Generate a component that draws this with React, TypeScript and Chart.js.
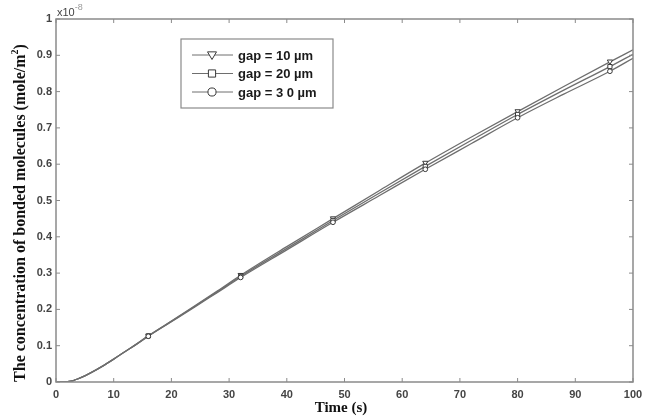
import React, { useEffect, useRef } from "react";
import { Chart, registerables } from "chart.js";

Chart.register(...registerables);

const times = [0, 1, 2, 3, 4, 5, 6, 8, 10, 12, 14, 16, 20, 24, 28, 32, 40, 48, 56, 64, 72, 80, 88, 96, 100];
const gap10 = [0, 0, 0.001, 0.004, 0.010, 0.017, 0.025, 0.043, 0.063, 0.084, 0.105, 0.127, 0.168, 0.209, 0.251, 0.294, 0.373, 0.450, 0.527, 0.603, 0.675, 0.745, 0.814, 0.882, 0.915];
const gap20 = [0, 0, 0.001, 0.004, 0.010, 0.017, 0.025, 0.043, 0.063, 0.084, 0.105, 0.127, 0.167, 0.208, 0.249, 0.291, 0.368, 0.445, 0.520, 0.594, 0.666, 0.737, 0.804, 0.869, 0.903];
const gap30 = [0, 0, 0.001, 0.004, 0.010, 0.017, 0.025, 0.043, 0.063, 0.084, 0.104, 0.126, 0.166, 0.206, 0.247, 0.288, 0.364, 0.440, 0.513, 0.586, 0.657, 0.728, 0.793, 0.856, 0.892];
const markerTimes = [16, 32, 48, 64, 80, 96];
const seriesLabels = ["gap = 10 µm", "gap = 20 µm", "gap = 3 0 µm"];
const xTicks = [0, 10, 20, 30, 40, 50, 60, 70, 80, 90, 100];
const yTicks = [0, 0.1, 0.2, 0.3, 0.4, 0.5, 0.6, 0.7, 0.8, 0.9, 1];
const yTitle = "The concentration of bonded molecules (mole/m";
const xTitle = "Time (s)";

const LINE = "#6e6e6e";
const MARK = "#3a3a3a";
const AXIS = "#8a8a8a";

function drawMarker(ctx: CanvasRenderingContext2D, kind: number, x: number, y: number, r: number) {
  ctx.save();
  ctx.fillStyle = "#ffffff";
  ctx.strokeStyle = MARK;
  ctx.lineWidth = 1;
  ctx.beginPath();
  if (kind === 0) {
    ctx.moveTo(x - r, y - r * 0.7);
    ctx.lineTo(x + r, y - r * 0.7);
    ctx.lineTo(x, y + r);
    ctx.closePath();
  } else if (kind === 1) {
    ctx.rect(x - r * 0.8, y - r * 0.8, r * 1.6, r * 1.6);
  } else {
    ctx.arc(x, y, r * 0.9, 0, Math.PI * 2);
  }
  ctx.fill();
  ctx.stroke();
  ctx.restore();
}

const framePlugin = {
  id: "frame",
  afterDraw(chart: any) {
    const ctx: CanvasRenderingContext2D = chart.ctx;
    const { left, right, top, bottom } = chart.chartArea;
    const xs = chart.scales.x;
    const ys = chart.scales.y;
    ctx.save();
    ctx.strokeStyle = AXIS;
    ctx.lineWidth = 1.5;
    ctx.strokeRect(left, top, right - left, bottom - top);
    ctx.lineWidth = 1;
    ctx.beginPath();
    xTicks.forEach((t) => {
      const px = xs.getPixelForValue(t);
      ctx.moveTo(px, bottom);
      ctx.lineTo(px, bottom - 4);
      ctx.moveTo(px, top);
      ctx.lineTo(px, top + 4);
    });
    yTicks.forEach((t) => {
      const py = ys.getPixelForValue(t);
      ctx.moveTo(left, py);
      ctx.lineTo(left + 4, py);
      ctx.moveTo(right, py);
      ctx.lineTo(right - 4, py);
    });
    ctx.stroke();

    // x10^-8
    ctx.fillStyle = "#444";
    ctx.font = '11px "Liberation Sans", Arial, sans-serif';
    ctx.textAlign = "left";
    ctx.textBaseline = "alphabetic";
    ctx.fillText("x10", left + 1, top - 3);
    const w = ctx.measureText("x10").width;
    ctx.fillStyle = "#999";
    ctx.font = '9px "Liberation Sans", Arial, sans-serif';
    ctx.fillText("-8", left + 1 + w, top - 9);

    // y title
    const big = 'bold 16px "Liberation Serif", "Times New Roman", serif';
    const small = 'bold 10px "Liberation Serif", "Times New Roman", serif';
    ctx.save();
    ctx.translate(21, 213);
    ctx.rotate(-Math.PI / 2);
    ctx.fillStyle = "#111";
    ctx.font = big;
    const tw = ctx.measureText(yTitle).width;
    const cw = ctx.measureText(")").width;
    ctx.font = small;
    const sw = ctx.measureText("2").width;
    const total = tw + sw + cw;
    ctx.textAlign = "left";
    ctx.textBaseline = "middle";
    let sx = -total / 2;
    ctx.font = big;
    ctx.fillText(yTitle, sx, 0);
    sx += tw;
    ctx.font = small;
    ctx.fillText("2", sx, -6);
    sx += sw;
    ctx.font = big;
    ctx.fillText(")", sx, 0);
    ctx.restore();

    // x title
    ctx.fillStyle = "#111";
    ctx.font = 'bold 15px "Liberation Serif", "Times New Roman", serif';
    ctx.textAlign = "center";
    ctx.textBaseline = "middle";
    ctx.fillText(xTitle, 341, 408);

    // legend
    const bx = 181, by = 39, bw = 152, bh = 69;
    ctx.fillStyle = "#fff";
    ctx.fillRect(bx, by, bw, bh);
    ctx.strokeStyle = AXIS;
    ctx.lineWidth = 1.2;
    ctx.strokeRect(bx, by, bw, bh);
    const rows = [55, 73.5, 92];
    seriesLabels.forEach((lab, i) => {
      const y = rows[i];
      ctx.strokeStyle = LINE;
      ctx.lineWidth = 1;
      ctx.beginPath();
      ctx.moveTo(192, y);
      ctx.lineTo(233, y);
      ctx.stroke();
      drawMarker(ctx, i, 212, y, 4.5);
      ctx.fillStyle = "#1a1a1a";
      ctx.font = 'bold 13px "Liberation Sans", Arial, sans-serif';
      ctx.textAlign = "left";
      ctx.textBaseline = "middle";
      ctx.fillText(lab, 238, y + 1);
    });
    ctx.restore();
  },
};

const markerPlugin = {
  id: "markers",
  afterDatasetsDraw(chart: any) {
    const ctx: CanvasRenderingContext2D = chart.ctx;
    chart.data.datasets.forEach((ds: any, i: number) => {
      const meta = chart.getDatasetMeta(i);
      meta.data.forEach((pt: any, j: number) => {
        if (markerTimes.includes(times[j])) {
          drawMarker(ctx, i, pt.x, pt.y, 2.6);
        }
      });
    });
  },
};

export default function App() {
  const ref = useRef<HTMLCanvasElement>(null);
  useEffect(() => {
    document.body.style.margin = "0";
    const mk = (data: number[]) => data.map((v, i) => ({ x: times[i], y: v }));
    const chart = new Chart(ref.current!, {
      type: "line",
      data: {
        datasets: [gap10, gap20, gap30].map((d, i) => ({
          label: seriesLabels[i],
          data: mk(d),
          borderColor: LINE,
          borderWidth: 1.3,
          pointRadius: 0,
          cubicInterpolationMode: "monotone" as const,
          fill: false,
        })),
      },
      options: {
        responsive: false,
        animation: false,
        devicePixelRatio: 1,
        layout: { padding: { top: 19, right: 18, left: 0, bottom: 0 } },
        plugins: { legend: { display: false }, tooltip: { enabled: false }, title: { display: false } },
        scales: {
          x: {
            type: "linear",
            min: 0,
            max: 100,
            afterBuildTicks: (s: any) => { s.ticks = xTicks.map((v) => ({ value: v })); },
            afterFit: (s: any) => { s.height = 37; },
            grid: { display: false, drawTicks: false },
            border: { display: false },
            ticks: { color: "#444", font: { family: '"Liberation Sans", Arial, sans-serif', size: 11, weight: "bold" }, padding: 6, maxRotation: 0 },
          },
          y: {
            type: "linear",
            min: 0,
            max: 1,
            afterBuildTicks: (s: any) => { s.ticks = yTicks.map((v) => ({ value: v })); },
            afterFit: (s: any) => { s.width = 56; },
            grid: { display: false, drawTicks: false },
            border: { display: false },
            ticks: {
              color: "#444",
              font: { family: '"Liberation Sans", Arial, sans-serif', size: 11, weight: "bold" },
              padding: 4,
              callback: (v: any) => (v === 0 ? "0" : v === 1 ? "1" : Number(v).toFixed(1)),
            },
          },
        },
      },
      plugins: [markerPlugin, framePlugin],
    });
    return () => chart.destroy();
  }, []);
  return <canvas ref={ref} width={651} height={419} style={{ display: "block" }} />;
}
